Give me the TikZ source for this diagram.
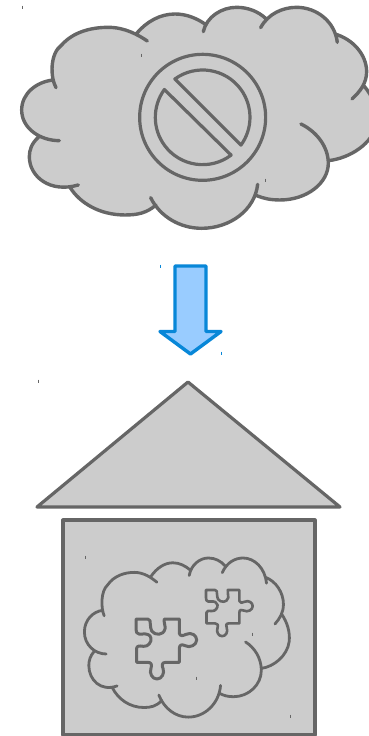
\documentclass[tikz,border=0pt]{standalone}
\usetikzlibrary{calc}
\definecolor{gfill}{HTML}{CCCCCC}
\definecolor{gline}{HTML}{666666}
\definecolor{bfill}{HTML}{99CCFF}
\definecolor{bline}{HTML}{0887D8}
\tikzset{
  shapeline/.style={draw=gline,line join=round,line cap=round},
  speck/.style={gline,line width=.7pt},
  bluespeck/.style={bline,line width=.7pt}
}
% cloud outline, written in thirds of a pixel
\newcommand{\cloudlobes}{
 (178,422) .. controls (120,422) and (65,385) .. (65,330) .. controls (65,280) and (110,245) .. (160,240) \S
 (168,263) .. controls (150,230) and (150,160) .. (185,135) .. controls (220,95) and (275,82) .. (325,82) .. controls (375,82) and (415,105) .. (442,123) \S
 (410,100) .. controls (440,65) and (480,42) .. (525,42) .. controls (560,42) and (590,55) .. (615,72) \S
 (610,95) .. controls (620,50) and (665,22) .. (710,22) .. controls (745,22) and (775,35) .. (797,55) \S
 (782,83) .. controls (805,40) and (850,22) .. (890,22) .. controls (950,22) and (1005,65) .. (1012,127) \S
 (1005,102) .. controls (1060,118) and (1100,165) .. (1100,215) .. controls (1100,250) and (1080,275) .. (1056,297) \S
 (1090,255) .. controls (1120,290) and (1135,330) .. (1130,370) .. controls (1120,430) and (1050,475) .. (985,482) \S
 (903,372) .. controls (950,395) and (985,440) .. (985,490) .. controls (985,550) and (920,600) .. (840,600) .. controls (810,600) and (790,595) .. (770,587) \S
 (773,553) .. controls (765,630) and (690,685) .. (605,685) .. controls (540,685) and (480,650) .. (452,593) \S
 (468,615) .. controls (440,640) and (410,645) .. (375,645) .. controls (300,645) and (240,610) .. (210,562) \S
 (235,555) .. controls (150,580) and (88,530) .. (88,470) .. controls (88,450) and (95,430) .. (115,412)
}
\newcommand{\cloudshape}[1]{%
  \def\S{--}\fill[gfill] \cloudlobes -- cycle;
  \def\S{}\draw[shapeline,line width=#1] \cloudlobes;
}
\newcommand{\puzzle}[1]{%
  \draw[shapeline,line width=#1]
   (33,42) -- (68,42) .. controls (76,42) and (76,50) .. (76,58) .. controls (76,66) and (78,72) .. (80,78)
   .. controls (90,92) and (115,92) .. (120,72) .. controls (122,62) and (115,50) .. (118,42)
   -- (163,42) -- (163,85) .. controls (165,95) and (175,92) .. (183,88) .. controls (200,80) and (215,92) .. (215,105)
   .. controls (215,120) and (195,130) .. (180,122) .. controls (172,118) and (163,118) .. (163,130)
   -- (163,172) -- (122,172) .. controls (110,172) and (110,182) .. (114,190) .. controls (120,205) and (110,222) .. (96,222)
   .. controls (82,222) and (72,205) .. (78,190) .. controls (82,178) and (78,172) .. (68,172)
   -- (35,172) -- (35,130) .. controls (35,122) and (45,122) .. (55,124) .. controls (70,126) and (80,110) .. (78,100)
   .. controls (76,88) and (65,86) .. (52,87) -- (42,87) .. controls (35,87) and (33,80) .. (33,72) -- cycle;
}
\begin{document}
\begin{tikzpicture}[x=1pt,y=-1pt]
\useasboundingbox (0,0) rectangle (369,736);
\fill[white] (0,0) rectangle (369,736);
% top cloud
\begin{scope}
  \clip (0,0) rectangle (369,736);
  \begin{scope}[x=.3333pt,y=-.3333pt]
    \cloudshape{3.4pt}
    \coordinate (c) at (608,352);
    \draw[shapeline,line width=3.2pt] (c) circle[radius=189];
    \draw[shapeline,line width=3.2pt] ($(c)+(-126:142)$) arc[start angle=-126,end angle=36,radius=142] -- cycle;
    \draw[shapeline,line width=3.2pt] ($(c)+(53:142)$) arc[start angle=53,end angle=216,radius=142] -- cycle;
  \end{scope}
\end{scope}
% arrow
\draw[draw=bline,fill=bfill,line width=3.4pt,line join=round]
  (175,266) -- (206,266) -- (206,331.5) -- (221,331.5) -- (190.5,354) -- (160,331.5) -- (175,331.5) -- cycle;
% house
\draw[shapeline,fill=gfill,line width=3.2pt] (188,382) -- (340,507) -- (37,507) -- cycle;
\draw[shapeline,fill=gfill,line width=3.2pt] (63,520) rectangle (315,735);
% small cloud
\begin{scope}[shift={(71.9,552.7)},x=.1923pt,y=-.24pt]
  \cloudshape{2.8pt}
\end{scope}
% puzzle pieces
\begin{scope}[shift={(125,605)},x=.3333pt,y=-.3333pt]
  \puzzle{3pt}
\end{scope}
\begin{scope}[shift={(197.5,579.2)},x=.2567pt,y=-.2567pt]
  \puzzle{2.6pt}
\end{scope}
% specks
\foreach \x/\y in {22/7,141/55,265/180,38/381,85/557,252/634,196/678,290/716}
  \draw[speck] (\x,\y-1.5) -- (\x,\y+1.5);
\foreach \x/\y in {160/266,221/353}
  \draw[bluespeck] (\x,\y-1.5) -- (\x,\y+1.5);
\end{tikzpicture}
\end{document}
